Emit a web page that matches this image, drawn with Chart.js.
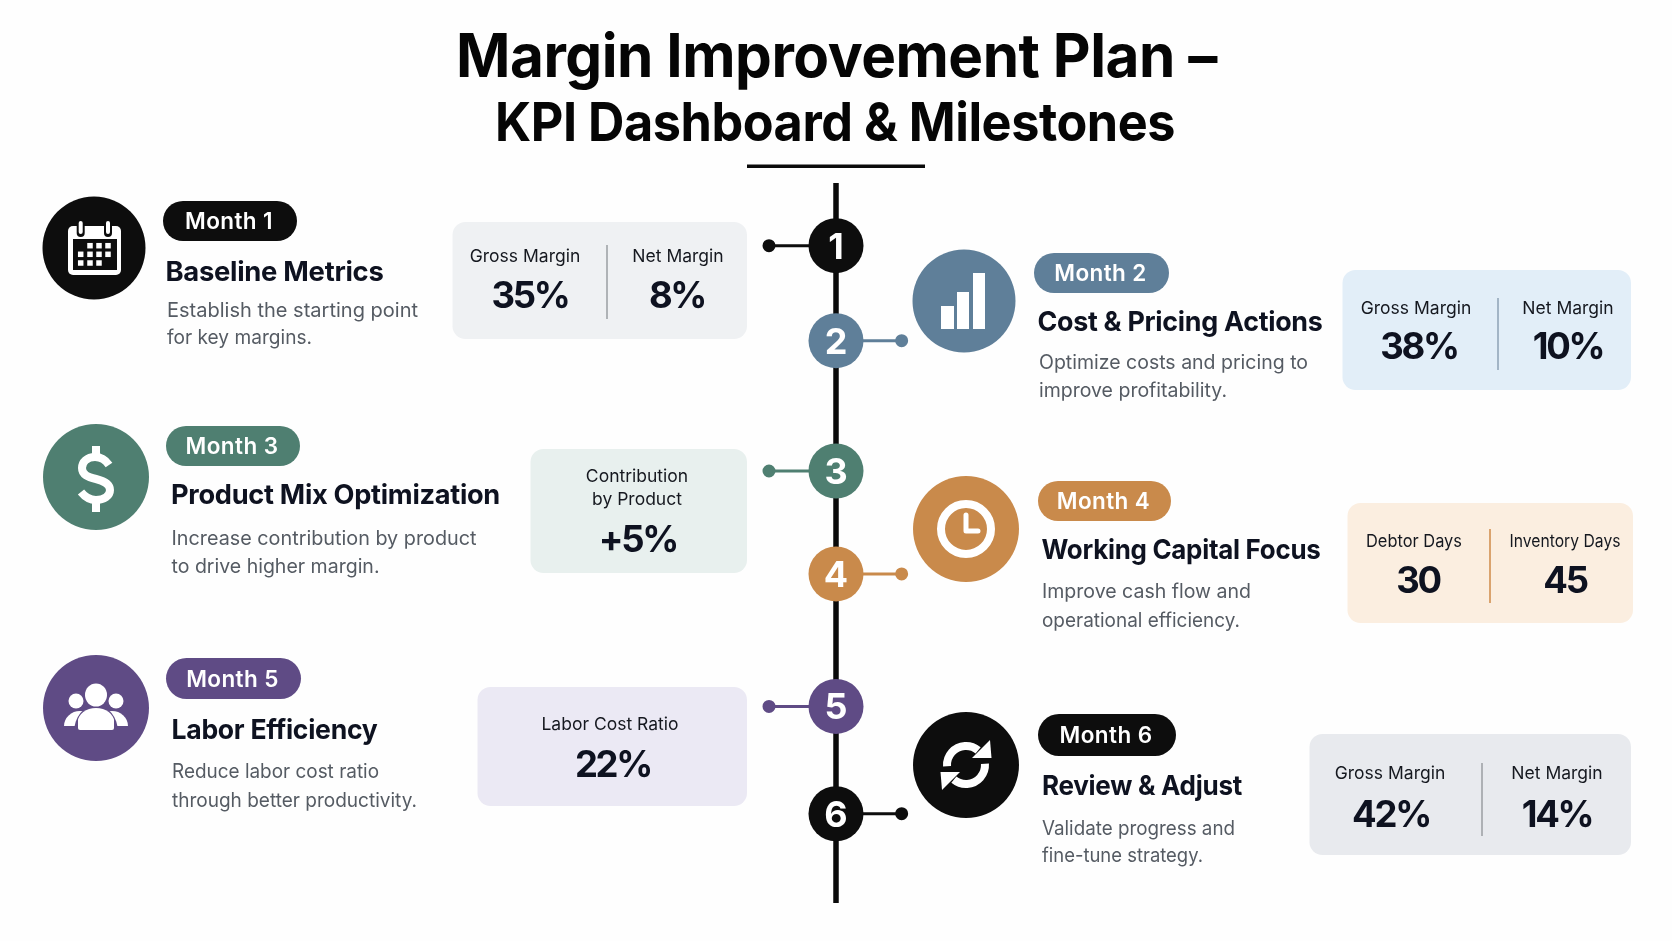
<!DOCTYPE html>
<html>
<head>
<meta charset="utf-8">
<title>Margin Improvement Plan</title>
<style>
  html, body { margin: 0; background: #fefefe; }
  #wrap { position: relative; width: 1672px; height: 941px; }
</style>
<script src="https://cdn.jsdelivr.net/npm/chart.js@4"></script>
</head>
<body>
<div id="wrap"><canvas id="myChart"></canvas></div>
<script>
const titleLines = ["Margin Improvement Plan –", "KPI Dashboard & Milestones"];

// data
const months = ["Month 1", "Month 2", "Month 3", "Month 4", "Month 5", "Month 6"];
const stepNumbers = ["1", "2", "3", "4", "5", "6"];
const stepTitles = ["Baseline Metrics", "Cost & Pricing Actions", "Product Mix Optimization", "Working Capital Focus", "Labor Efficiency", "Review & Adjust"];
const stepNotes = [
  ["Establish the starting point", "for key margins."],
  ["Optimize costs and pricing to", "improve profitability."],
  ["Increase contribution by product", "to drive higher margin."],
  ["Improve cash flow and", "operational efficiency."],
  ["Reduce labor cost ratio", "through better productivity."],
  ["Validate progress and", "fine-tune strategy."],
];
const kpiLabels = [
  ["Gross Margin", "Net Margin"],
  ["Gross Margin", "Net Margin"],
  ["Contribution", "by Product"],
  ["Debtor Days", "Inventory Days"],
  ["Labor Cost Ratio"],
  ["Gross Margin", "Net Margin"],
];
const kpiValues = [
  ["35%", "8%"],
  ["38%", "10%"],
  ["+5%"],
  ["30", "45"],
  ["22%"],
  ["42%", "14%"],
];
// where each step sits along the timeline, 0 = top of the line, 100 = bottom
const timelineShare = [8.7, 21.9, 40.0, 54.3, 72.7, 87.6];
const timelineEnds = [0, 100];
const stubSide = [-1, 0.98, -1, 0.98, -1, 0.98];

// styles
const accents = ["#0d0d0d", "#5f7f99", "#4f7f71", "#c98a4b", "#5f4b85", "#0d0d0d"];
const cardFills = ["#eff1f3", "#e2eef8", "#e8f0ee", "#fbeee0", "#ebe9f4", "#e8eaee"];
const ruleColors = ["#9a9ea3", "#8ea3b5", null, "#d08a48", null, "#9a9ea3"];
const FONT = "Inter, 'Noto Sans', sans-serif";
const INK = "#0e1220";
const NOTE = "#555b63";

// page layout of the blocks around the timeline
const blocks = [
  { icon: [94, 248, 51.5], pill: [163, 201, 134, 40], head: [165.5, 281, 218], note: [167, 317, 344], noteWidth: [251, 145], card: [452.5, 222, 294.5, 117], rule: [607, 245, 319],
    labelAt: [[525, 262], [678, 262]], valueAt: [[530, 308], [677, 308]] },
  { icon: [964, 301, 51.5], pill: [1034, 253, 135, 40], head: [1037.5, 331, 285], note: [1039, 369, 397], noteWidth: [269, 188], card: [1342.5, 270, 288.5, 120], rule: [1498, 298, 370],
    labelAt: [[1416, 314], [1568, 314]], valueAt: [[1419, 359], [1568, 359]] },
  { icon: [96, 477, 53], pill: [166, 426, 134, 40], head: [171, 504, 329], note: [171.5, 545, 573], noteWidth: [305, 208], card: [530.5, 449, 216.5, 124], rule: null,
    labelAt: [[637, 482], [637, 505]], valueAt: [[638, 552]] },
  { icon: [966, 529, 53], pill: [1038, 481, 133, 40], head: [1041.5, 559, 279], note: [1042, 598, 627], noteWidth: [209, 198], card: [1347.5, 503, 285.5, 120], rule: [1490, 529, 603],
    labelAt: [[1414, 547], [1565, 547]], labelWidth: [96, 111], valueAt: [[1418, 593], [1565, 593]] },
  { icon: [96, 708, 53], pill: [166, 658, 135, 41], head: [171.5, 739, 206], note: [172, 778, 807], noteWidth: [207, 245], card: [477.5, 687, 269.5, 119], rule: null,
    labelAt: [[610, 730]], valueAt: [[613, 777]] },
  { icon: [966, 765, 53], pill: [1038, 714, 138, 42], head: [1042, 795, 200], note: [1042, 835, 862], noteWidth: [193, 161], card: [1309.5, 734, 321.5, 121], rule: [1482, 763, 836],
    labelAt: [[1390, 779], [1557, 779]], valueAt: [[1391, 827], [1557, 827]] },
];

// width, when given, squeezes or stretches the text to that many pixels
function put(ctx, text, x, y, font, color, align, spacing, width) {
  ctx.save();
  ctx.font = font;
  ctx.fillStyle = color;
  ctx.textAlign = align || "left";
  ctx.textBaseline = "alphabetic";
  ctx.letterSpacing = (spacing || 0) + "px";
  ctx.translate(x, y);
  if (width) ctx.scale(width / ctx.measureText(text).width, 1);
  ctx.fillText(text, 0, 0);
  ctx.restore();
}

function box(ctx, x, y, w, h, r, fill) {
  ctx.beginPath();
  ctx.roundRect(x, y, w, h, r);
  ctx.fillStyle = fill;
  ctx.fill();
}

function calendarIcon(ctx, x, y, color) {
  box(ctx, x - 26, y - 22, 53, 49, 5, "#fff");
  ctx.fillStyle = color;
  ctx.fillRect(x - 21, y - 9, 44, 31);
  ctx.fillStyle = "#fff";
  [-13.3, -4, 5, 14].forEach((dx, c) => {
    [-2.3, 6.3, 15].forEach((dy, r) => {
      if ((r === 0 && c === 0) || (r === 2 && c === 3)) return;
      ctx.fillRect(x + dx - 2.75, y + dy - 2.75, 5.5, 5.5);
    });
  });
  [-13.3, 14].forEach((dx) => {
    box(ctx, x + dx - 4, y - 28, 8, 17, 4, color);
    box(ctx, x + dx - 2, y - 27, 4, 13, 2, "#fff");
  });
}

function barsIcon(ctx, x, y) {
  ctx.fillStyle = "#fff";
  ctx.fillRect(x - 23, y + 5, 13, 23);
  ctx.fillRect(x - 7, y - 9, 12, 37);
  ctx.fillRect(x + 9, y - 28, 12, 56);
}

function dollarIcon(ctx, x, y) {
  ctx.save();
  ctx.translate(x, y + 1);
  ctx.strokeStyle = "#fff";
  ctx.fillStyle = "#fff";
  ctx.lineWidth = 8;
  ctx.beginPath();
  ctx.moveTo(13, -13);
  ctx.bezierCurveTo(9, -19, 4, -21, -1, -21);
  ctx.bezierCurveTo(-9, -21, -14, -16, -14, -10);
  ctx.bezierCurveTo(-14, -3, -8, -1, 0, 1);
  ctx.bezierCurveTo(8, 3, 14, 6, 14, 12);
  ctx.bezierCurveTo(14, 18, 8, 22, 0, 22);
  ctx.bezierCurveTo(-6, 22, -11, 19, -15, 14);
  ctx.stroke();
  ctx.fillRect(-4, -32, 8, 10);
  ctx.fillRect(-4, 22, 8, 12);
  ctx.restore();
}

function clockIcon(ctx, x, y) {
  ctx.save();
  ctx.strokeStyle = "#fff";
  ctx.lineWidth = 8;
  ctx.beginPath();
  ctx.arc(x, y, 25, 0, Math.PI * 2);
  ctx.stroke();
  ctx.lineWidth = 5;
  ctx.lineCap = "round";
  ctx.lineJoin = "round";
  ctx.beginPath();
  ctx.moveTo(x, y - 14);
  ctx.lineTo(x, y + 2);
  ctx.lineTo(x + 12, y + 2);
  ctx.stroke();
  ctx.restore();
}

function peopleIcon(ctx, x, y, color) {
  ctx.fillStyle = "#fff";
  [-1, 1].forEach((side) => {
    ctx.beginPath();
    ctx.ellipse(x + side * 20, y - 7, 7.5, 7.5, 0, 0, Math.PI * 2);
    ctx.fill();
    ctx.beginPath();
    ctx.ellipse(x + side * 16, y + 18, 16, 15, 0, Math.PI, 0);
    ctx.closePath();
    ctx.fill();
  });
  ctx.fillStyle = color;
  ctx.beginPath();
  ctx.ellipse(x, y + 24, 22, 27, 0, Math.PI, 0);
  ctx.fill();
  ctx.fillStyle = "#fff";
  ctx.beginPath();
  ctx.ellipse(x, y - 13, 11, 11.5, 0, 0, Math.PI * 2);
  ctx.fill();
  box(ctx, x - 18, y + 10, 36, 12, 2, "#fff");
  ctx.beginPath();
  ctx.ellipse(x, y + 14, 18, 14, 0, Math.PI, 0);
  ctx.fill();
}

function refreshIcon(ctx, x, y) {
  ctx.strokeStyle = "#fff";
  ctx.fillStyle = "#fff";
  ctx.lineWidth = 8;
  [0, Math.PI].forEach((turn) => {
    ctx.save();
    ctx.translate(x, y);
    ctx.rotate(turn);
    ctx.beginPath();
    ctx.arc(0, 0, 19, Math.PI * 0.98, Math.PI * 1.72);
    ctx.stroke();
    ctx.beginPath();
    ctx.moveTo(24, -25);
    ctx.lineTo(25.5, -7);
    ctx.lineTo(6, -7);
    ctx.closePath();
    ctx.fill();
    ctx.restore();
  });
}

function drawIcon(ctx, i, x, y) {
  if (i === 0) calendarIcon(ctx, x, y, accents[i]);
  if (i === 1) barsIcon(ctx, x, y);
  if (i === 2) dollarIcon(ctx, x, y);
  if (i === 3) clockIcon(ctx, x, y);
  if (i === 4) peopleIcon(ctx, x, y, accents[i]);
  if (i === 5) refreshIcon(ctx, x, y);
}

const pagePlugin = {
  id: "page",
  beforeDatasetsDraw(chart) {
    const ctx = chart.ctx;
    ctx.save();
    put(ctx, titleLines[0], 836.5, 77, "700 60px " + FONT, "#050505", "center", -0.5, 761);
    put(ctx, titleLines[1], 835, 140.5, "700 54px " + FONT, "#050505", "center", -0.5, 680);
    ctx.fillStyle = "#0a0a0a";
    ctx.fillRect(747, 164.5, 178, 3.5);

    blocks.forEach((b, i) => {
      ctx.beginPath();
      ctx.arc(b.icon[0], b.icon[1], b.icon[2], 0, Math.PI * 2);
      ctx.fillStyle = accents[i];
      ctx.fill();
      drawIcon(ctx, i, b.icon[0], b.icon[1]);

      box(ctx, b.pill[0], b.pill[1], b.pill[2], b.pill[3], b.pill[3] / 2, accents[i]);
      put(ctx, months[i], b.pill[0] + b.pill[2] / 2 - 1, b.pill[1] + b.pill[3] / 2 + 8, "600 22.5px " + FONT, "#fff", "center", 0.4);

      put(ctx, stepTitles[i], b.head[0], b.head[1], "700 27.5px " + FONT, INK, "left", -0.3, b.head[2]);
      put(ctx, stepNotes[i][0], b.note[0], b.note[1], "400 20px " + FONT, NOTE, "left", 0, b.noteWidth[0]);
      put(ctx, stepNotes[i][1], b.note[0], b.note[2], "400 20px " + FONT, NOTE, "left", 0, b.noteWidth[1]);

      box(ctx, b.card[0], b.card[1], b.card[2], b.card[3], 13, cardFills[i]);
      if (b.rule) {
        ctx.fillStyle = ruleColors[i];
        ctx.fillRect(b.rule[0] - 0.75, b.rule[1], 1.5, b.rule[2] - b.rule[1]);
      }
      kpiLabels[i].forEach((label, k) => {
        const w = b.labelWidth ? b.labelWidth[k] : 0;
        put(ctx, label, b.labelAt[k][0], b.labelAt[k][1], "400 17.5px " + FONT, "#15181f", "center", 0, w);
      });
      kpiValues[i].forEach((value, k) => {
        put(ctx, value, b.valueAt[k][0], b.valueAt[k][1], "700 36.5px " + FONT, INK, "center", -2.3);
      });
    });
    ctx.restore();
  },
  afterDatasetsDraw(chart) {
    const ctx = chart.ctx;
    const nodes = chart.getDatasetMeta(0).data;
    nodes.forEach((pt, i) => {
      put(ctx, stepNumbers[i], pt.x, pt.y + 13, "700 36px " + FONT, "#fff", "center");
    });
  },
};

const datasets = [
  {
    label: "Milestones",
    data: timelineShare.map((v) => ({ x: 0, y: v })),
    backgroundColor: accents,
    borderWidth: 0,
    pointRadius: 27.5,
    order: 1,
    clip: false,
  },
];
timelineShare.forEach((v, i) => {
  datasets.push({
    label: months[i],
    data: [{ x: 0, y: v }, { x: stubSide[i], y: v }],
    showLine: true,
    borderColor: accents[i],
    backgroundColor: accents[i],
    borderWidth: 3,
    pointRadius: [0, 5],
    order: 2,
    clip: false,
  });
});
datasets.push({
  label: "Timeline",
  data: timelineEnds.map((v) => ({ x: 0, y: v })),
  showLine: true,
  borderColor: "#0a0a0a",
  borderWidth: 5.5,
  pointRadius: 0,
  order: 3,
  clip: false,
});

new Chart(document.getElementById("myChart"), {
  type: "scatter",
  data: { datasets: datasets },
  options: {
    responsive: true,
    maintainAspectRatio: false,
    animation: false,
    layout: { padding: { left: 769, right: 769, top: 183, bottom: 38 } },
    plugins: { legend: { display: false }, tooltip: { enabled: false } },
    scales: {
      x: { type: "linear", min: -1, max: 1, display: false },
      y: { type: "linear", min: 0, max: 100, reverse: true, display: false },
    },
  },
  plugins: [pagePlugin],
});
</script>
</body>
</html>
